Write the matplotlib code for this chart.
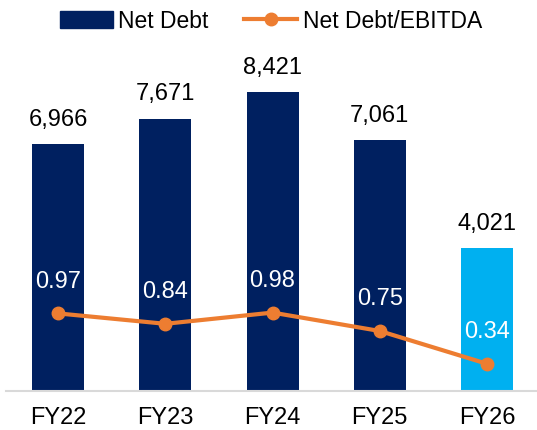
import matplotlib
matplotlib.use('Agg')
import matplotlib.pyplot as plt
from matplotlib.lines import Line2D
from matplotlib.patches import Patch

years = ['FY22', 'FY23', 'FY24', 'FY25', 'FY26']
net_debt = [6966, 7671, 8421, 7061, 4021]
ratio = [0.97, 0.84, 0.98, 0.75, 0.34]

navy = '#002060'
light = '#00B0F0'
orange = '#ED7D31'

plt.rcParams['font.family'] = ['Liberation Sans', 'DejaVu Sans']

W, H = 537, 431
fig = plt.figure(figsize=(W / 100, H / 100), dpi=100)
ax = fig.add_axes([6 / W, (H - 392) / H, 1 - 6 / W, (392 - 60) / H])

x = list(range(len(years)))
colors = [navy] * 4 + [light]
ax.bar(x, net_debt, width=0.485, color=colors, zorder=2)
for xi, v in zip(x, net_debt):
    ax.text(xi, v + 400, f'{v:,}', ha='center', va='bottom', fontsize=17)

ax.set_xlim(-0.485, 4.466)
ax.set_ylim(0, 332 / 0.0355)
ax.set_yticks([])
ax.set_xticks(x)
ax.set_xticklabels(years, fontsize=17)
ax.tick_params(axis='x', length=0, pad=11)
for s in ['top', 'right', 'left']:
    ax.spines[s].set_visible(False)
ax.spines['bottom'].set_color('#D9D9D9')
ax.spines['bottom'].set_linewidth(1.5)

ax2 = ax.twinx()
ax2.plot(x, ratio, color=orange, lw=3, marker='o', ms=9, zorder=3)
for xi, r in zip(x, ratio):
    ax2.text(xi, r + 0.27, f'{r:.2f}', ha='center', va='bottom', fontsize=17, color='white')
ax2.set_ylim(0, 332 / 80)
ax2.set_yticks([])
ax2.set_xlim(-0.485, 4.466)
for s in ax2.spines.values():
    s.set_visible(False)

handles = [Patch(color=navy), Line2D([0], [0], color=orange, lw=3, marker='o', ms=9)]
fig.legend(handles, ['Net Debt', 'Net Debt/EBITDA'], loc='center', bbox_to_anchor=(271 / W, 1 - 22 / H),
           ncol=2, frameon=False, fontsize=16.5, handlelength=2.3, handletextpad=0.25, columnspacing=1.55,
           handleheight=0.8)

fig.savefig('out.png', dpi=100)
